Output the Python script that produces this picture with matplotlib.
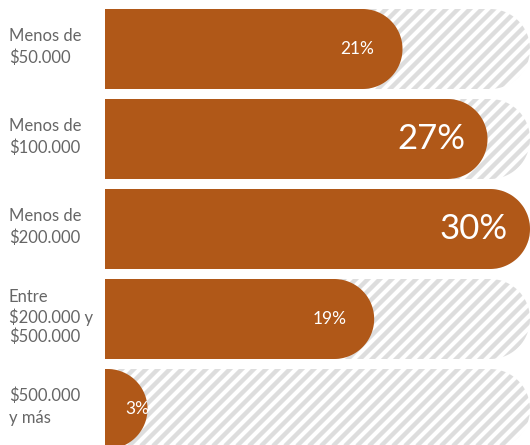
import numpy as np
import matplotlib
matplotlib.use("Agg")
import matplotlib.pyplot as plt
from matplotlib.patches import Polygon
from matplotlib.collections import LineCollection
from matplotlib.transforms import IdentityTransform

# ---- data ----
categories = ["Menos de\n$50.000", "Menos de\n$100.000", "Menos de\n$200.000",
              "Entre\n$200.000 y\n$500.000", "$500.000\ny más"]
values = [21, 27, 30, 19, 3]
value_labels = ["21%", "27%", "30%", "19%", "3%"]
axis_max = 30

# ---- style ----
BAR_COLOR = "#B05818"
STRIPE_COLOR = "#DDDDDD"
LABEL_COLOR = "#666666"
FONT = ["Lato", "DejaVu Sans"]

W, H, DPI = 530, 445, 100
fig = plt.figure(figsize=(W / DPI, H / DPI), dpi=DPI)
ax = fig.add_axes([105 / W, 0, (W - 105) / W, 1])
ax.set_xlim(0, axis_max)
pitch, first_center = 90, 49
ax.set_ylim((H - first_center) / pitch, -first_center / pitch)
ax.axis("off")

bar_h = 80 / 90
p0 = ax.transData.transform((0, 0))
p1 = ax.transData.transform((1, 0))
px_per_x = p1[0] - p0[0]
rx_data = (bar_h / 2 * pitch) / px_per_x


def rounded_bar(x0, x1, yc, h):
    ry = h / 2
    rx = min(rx_data, x1 - x0)
    cx = x1 - rx
    t = np.linspace(-np.pi / 2, np.pi / 2, 80)
    arc = np.column_stack([cx + rx * np.cos(t), yc + ry * np.sin(t)])
    return np.vstack([[x0, yc - ry], arc, [x0, yc + ry]])


bbox = ax.get_window_extent()
period = 12.0
segs = []
x = bbox.x0 - bbox.height - 20
while x < bbox.x1 + 20:
    segs.append([(x, bbox.y0 - 10), (x + bbox.height + 20, bbox.y1 + 10)])
    x += period

for i, (cat, v, lab) in enumerate(zip(categories, values, value_labels)):
    bg = Polygon(rounded_bar(0, axis_max, i, bar_h), closed=True,
                 facecolor="white", edgecolor="none", zorder=1)
    ax.add_patch(bg)
    lc = LineCollection(segs, colors=STRIPE_COLOR, linewidths=4.4 * 72 / DPI,
                        transform=IdentityTransform(), zorder=2)
    lc.set_clip_path(bg)
    ax.add_collection(lc)

    bar = Polygon(rounded_bar(0, v, i, bar_h), closed=True,
                  facecolor=BAR_COLOR, edgecolor="none", zorder=3)
    ax.add_patch(bar)

    big = v >= 25
    fs = 25 if big else 12.5
    xr = max(v - (22 if big else 28) / px_per_x, 44 / px_per_x)
    ax.text(xr, i, lab, ha="right", va="center", color="white",
            fontsize=fs, family=FONT, zorder=4)

    nlines = cat.count("\n") + 1
    yc_px = ax.transData.transform((0, i))[1]
    fig.text(9 / W, (yc_px + 2) / H, cat, ha="left", va="center",
             color=LABEL_COLOR, fontsize=12, family=FONT,
             linespacing=1.45 if nlines < 3 else 1.22)

fig.savefig("out.png", dpi=DPI)
